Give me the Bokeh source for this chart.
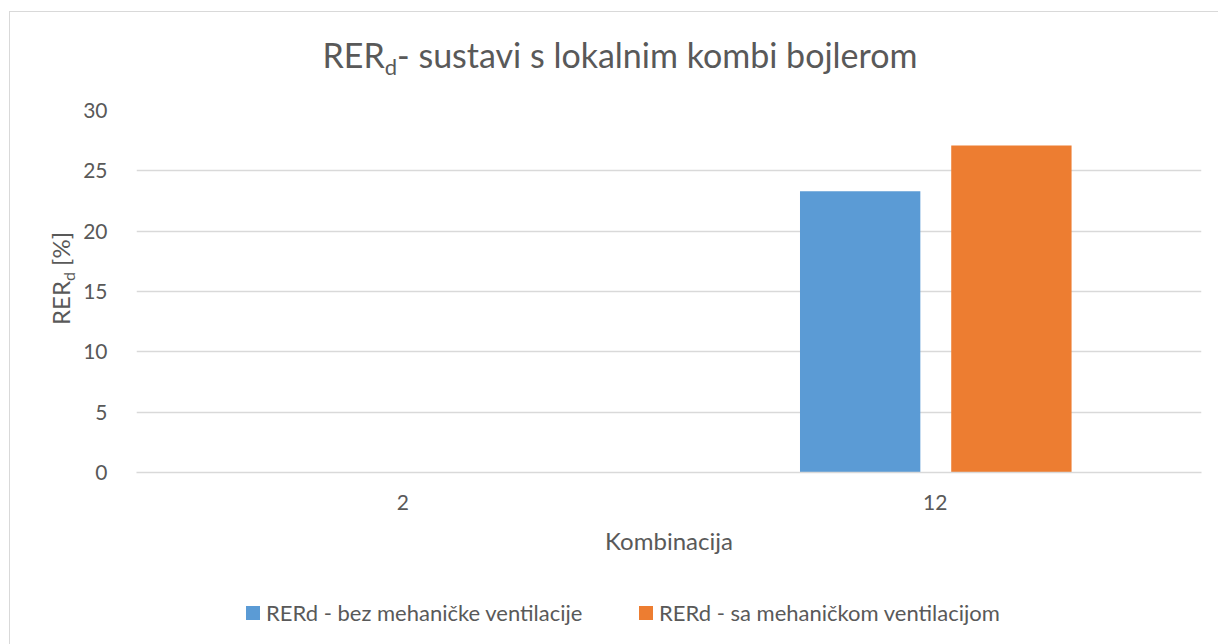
from bokeh.plotting import figure
from bokeh.models import FactorRange, ColumnDataSource, FixedTicker, Div
from bokeh.layouts import column, row
from bokeh.transform import dodge
from bokeh.embed import file_html
from bokeh.resources import INLINE

# ---- data ----
categories = ["2", "12"]
series_labels = ["RERd - bez mehaničke ventilacije", "RERd - sa mehaničkom ventilacijom"]
rerd_bez = [0.0, 23.3]
rerd_sa = [0.0, 27.1]
y_ticks = [0, 5, 10, 15, 20, 25, 30]
title_main, title_sub, title_rest = "RER", "d", "- sustavi s lokalnim kombi bojlerom"
ylab_main, ylab_sub, ylab_rest = "RER", "d", " [%]"
x_label = "Kombinacija"

# ---- style ----
FONT = "Lato"
TEXT = "#595959"
BLUE = "#5B9BD5"
ORANGE = "#ED7D31"
series_colors = [BLUE, ORANGE]
GRID = "#D9D9D9"
BORDER = "#D9D9D9"

TOTAL_W, TOTAL_H = 1218, 644
TITLE_H = 90
LEG_H = 64
PLOT_H = TOTAL_H - TITLE_H - LEG_H
YLAB_W = 80
FRAME_TOP = 20

# ---- title (HTML text with a real subscript) ----
title_html = (
    f'<div style="position:relative;width:{TOTAL_W}px;height:{TITLE_H}px;">'
    f'<div style="position:absolute;left:9px;top:11px;width:{TOTAL_W}px;height:{TITLE_H}px;'
    f'border-top:1px solid {BORDER};border-left:1px solid {BORDER};"></div>'
    f'<div style="position:absolute;left:0;top:35px;width:1240px;text-align:center;'
    f'font-family:{FONT};font-size:34px;line-height:40px;color:{TEXT};white-space:nowrap;">'
    f'{title_main}<span style="font-size:22px;position:relative;top:7px;">{title_sub}</span>{title_rest}'
    f'</div></div>'
)
title_div = Div(text=title_html, width=TOTAL_W, height=TITLE_H, margin=0)

# ---- rotated y-axis title ----
ylab_html = (
    f'<div style="position:relative;width:{YLAB_W}px;height:{PLOT_H}px;">'
    f'<div style="position:absolute;left:9px;top:0;height:{PLOT_H}px;'
    f'border-left:1px solid {BORDER};"></div>'
    f'<div style="position:absolute;left:47px;top:{325 - TITLE_H}px;transform-origin:0 0;transform:rotate(-90deg);'
    f'font-family:{FONT};font-size:24px;line-height:28px;color:{TEXT};white-space:nowrap;">'
    f'{ylab_main}<span style="font-size:16px;position:relative;top:5px;">{ylab_sub}</span>{ylab_rest}'
    f'</div></div>'
)
ylab_div = Div(text=ylab_html, width=YLAB_W, height=PLOT_H, margin=0)

# ---- legend (HTML) ----
leg_x = [246, 639]
items = ""
for lx, lab, col in zip(leg_x, series_labels, series_colors):
    items += (
        f'<div style="position:absolute;left:{lx}px;top:26px;width:14px;height:14px;background:{col};"></div>'
        f'<div style="position:absolute;left:{lx + 20}px;top:19px;font-family:{FONT};font-size:22px;'
        f'line-height:28px;color:{TEXT};white-space:nowrap;">{lab}</div>'
    )
legend_html = (
    f'<div style="position:relative;width:{TOTAL_W}px;height:{LEG_H}px;">'
    f'<div style="position:absolute;left:9px;top:0;height:{LEG_H}px;border-left:1px solid {BORDER};"></div>'
    f'{items}</div>'
)
legend_div = Div(text=legend_html, width=TOTAL_W, height=LEG_H, margin=0)

# ---- chart ----
src = ColumnDataSource(dict(cat=categories, bez=rerd_bez, sa=rerd_sa))

p = figure(x_range=FactorRange(*categories, range_padding=0), y_range=(0, 30),
           width=TOTAL_W - YLAB_W, height=PLOT_H,
           output_backend="svg", toolbar_location=None, margin=0,
           min_border_left=50, min_border_right=17, min_border_top=FRAME_TOP,
           min_border_bottom=PLOT_H - FRAME_TOP - 362)
p.outline_line_color = None
p.background_fill_color = "white"
p.border_fill_color = "white"

p.vbar(x=dodge("cat", -0.141, range=p.x_range), top="bez", width=0.226, source=src,
       fill_color=BLUE, line_color=None)
p.vbar(x=dodge("cat", 0.143, range=p.x_range), top="sa", width=0.226, source=src,
       fill_color=ORANGE, line_color=None)

xa = p.xaxis[0]
xa.axis_line_color = GRID
xa.axis_line_width = 1.5
xa.major_tick_line_color = None
xa.minor_tick_line_color = None
xa.major_label_text_font = FONT
xa.major_label_text_font_size = "21px"
xa.major_label_text_color = TEXT
xa.major_label_standoff = 16
xa.axis_label = x_label
xa.axis_label_text_font = FONT
xa.axis_label_text_font_size = "24px"
xa.axis_label_text_font_style = "normal"
xa.axis_label_text_color = TEXT
xa.axis_label_standoff = 13

ya = p.yaxis[0]
ya.ticker = FixedTicker(ticks=y_ticks)
ya.axis_line_color = None
ya.major_tick_line_color = None
ya.minor_tick_line_color = None
ya.major_label_text_font = FONT
ya.major_label_text_font_size = "21px"
ya.major_label_text_color = TEXT
ya.major_label_standoff = 23

p.xgrid.visible = False
p.ygrid.grid_line_color = GRID
p.ygrid.grid_line_width = 1.5
p.ygrid.ticker = FixedTicker(ticks=y_ticks)

layout = column(title_div, row(ylab_div, p, margin=0), legend_div, margin=0)

open("out.html", "w").write(file_html(layout, INLINE))
